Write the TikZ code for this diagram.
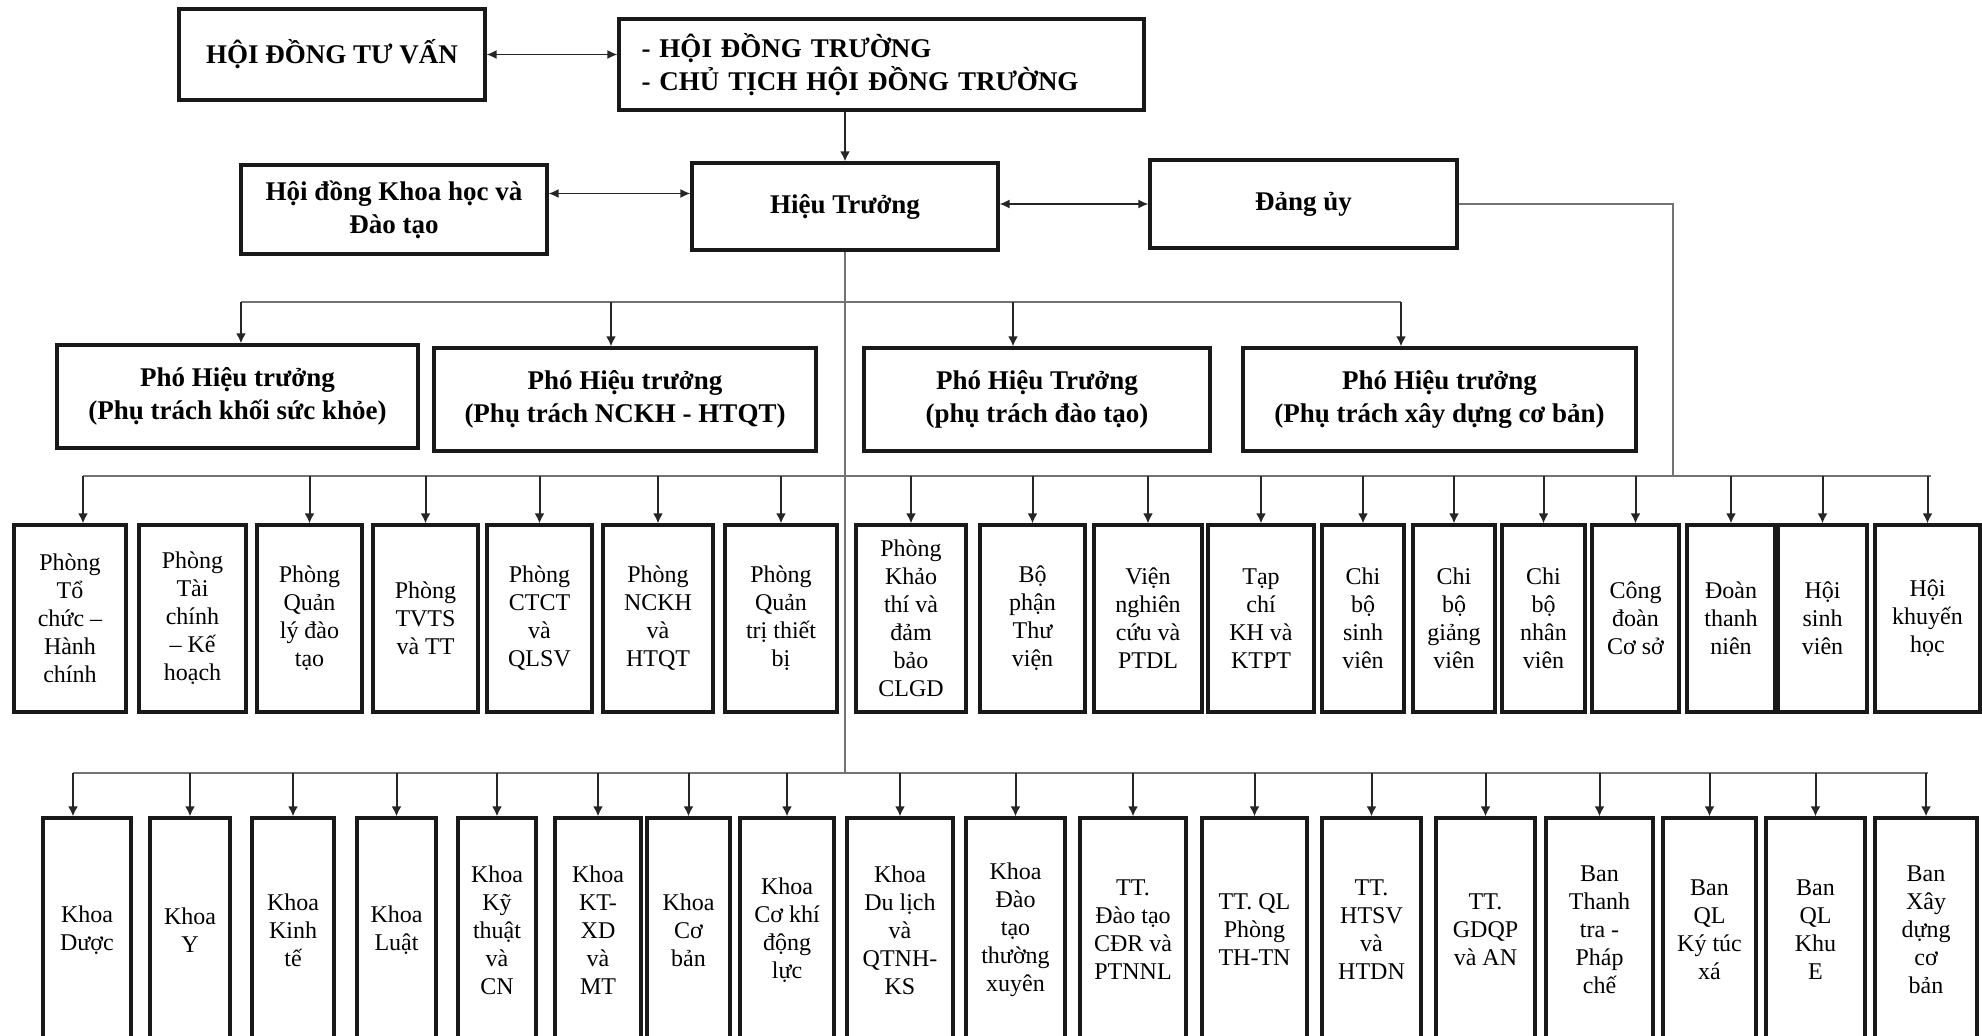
\documentclass[tikz,border=0pt]{standalone}
\usepackage{fontspec}
\setmainfont{Liberation Serif}
\usetikzlibrary{arrows.meta,calc}

\tikzset{
  unit/.style={draw=black!90, line width=1.6pt, inner sep=1pt, align=center,
    font=\fontsize{12}{14}\selectfont},
  head/.style={unit, font=\bfseries\fontsize{13.5}{16.5}\selectfont},
  link/.style={draw=black!55, line width=0.55pt},
  arr/.style={draw=black!85, line width=1pt, -{Latex[length=5pt,width=5pt]}},
  darr/.style={draw=black!85, line width=0.8pt, {Latex[length=5pt,width=4.5pt]}-{Latex[length=5pt,width=4.5pt]}},
}

% style, name, x1, y1, x2, y2, text
\newcommand\unitbox[7]{%
  \node[#1, minimum width={(#5-#3)*0.5pt}, minimum height={(#6-#4)*0.5pt}]
    (#2) at ({(#3+#5)/2},{(#4+#6)/2}) {#7};}

\begin{document}
\begin{tikzpicture}[x=0.5pt, y=-0.5pt]
\useasboundingbox (0,0) rectangle (1982,1035);

% top
\unitbox{head}{hdtv}{179}{9}{485}{100}{HỘI ĐỒNG TƯ VẤN}
\unitbox{head, align=left, text width=240pt}{hdt}{619}{19}{1144}{110}{- HỘI ĐỒNG TRƯỜNG\\- CHỦ TỊCH HỘI ĐỒNG TRƯỜNG}
\unitbox{head}{kh}{241}{165}{547}{254}{Hội đồng Khoa học và\\Đào tạo}
\unitbox{head}{ht}{692}{163}{998}{250}{Hiệu Trưởng}
\unitbox{head}{du}{1150}{160}{1457}{248}{Đảng ủy}

\unitbox{head}{p1}{57}{345}{418}{448}{Phó Hiệu trưởng\\(Phụ trách khối sức khỏe)}
\unitbox{head}{p2}{434}{348}{816}{451}{Phó Hiệu trưởng\\(Phụ trách NCKH - HTQT)}
\unitbox{head}{p3}{864}{348}{1210}{451}{Phó Hiệu Trưởng\\(phụ trách đào tạo)}
\unitbox{head}{p4}{1243}{348}{1636}{451}{Phó Hiệu trưởng\\(Phụ trách xây dựng cơ bản)}

% phong ban
\foreach \n/\a/\b/\t in {
  ptc/14/126/{Phòng\\Tổ\\chức –\\Hành\\chính},
  ptk/139/246/{Phòng\\Tài\\chính\\– Kế\\hoạch},
  pqd/257/362/{Phòng\\Quản\\lý đào\\tạo},
  ptv/373/478/{Phòng\\TVTS\\và TT},
  pct/487/592/{Phòng\\CTCT\\và\\QLSV},
  pnc/603/713/{Phòng\\NCKH\\và\\HTQT},
  pqt/725/837/{Phòng\\Quản\\trị thiết\\bị},
  pkt/856/966/{Phòng\\Khảo\\thí và\\đảm\\bảo\\CLGD},
  btv/980/1085/{Bộ\\phận\\Thư\\viện},
  vnc/1094/1202/{Viện\\nghiên\\cứu và\\PTDL},
  tck/1208/1314/{Tạp\\chí\\KH và\\KTPT},
  cbs/1322/1404/{Chi\\bộ\\sinh\\viên},
  cbg/1413/1495/{Chi\\bộ\\giảng\\viên},
  cbn/1502/1585/{Chi\\bộ\\nhân\\viên},
  cdcs/1592/1679/{Công\\đoàn\\Cơ sở},
  dtn/1687/1775/{Đoàn\\thanh\\niên},
  hsv/1778/1867/{Hội\\sinh\\viên},
  hkh/1875/1980/{Hội\\khuyến\\học}}
  {\unitbox{unit}{\n}{\a}{525}{\b}{712}{\t}}

% khoa, trung tam, ban
\foreach \n/\a/\b/\t in {
  kduoc/43/131/{Khoa\\Dược},
  ky/150/230/{Khoa\\Y},
  kkt/252/334/{Khoa\\Kinh\\tế},
  kluat/357/436/{Khoa\\Luật},
  kktcn/458/536/{Khoa\\Kỹ\\thuật\\và\\CN},
  kxd/555/641/{Khoa\\KT-\\XD\\và\\MT},
  kcb/647/730/{Khoa\\Cơ\\bản},
  kck/740/834/{Khoa\\Cơ khí\\động\\lực},
  kdl/847/953/{Khoa\\Du lịch\\và\\QTNH-\\KS},
  kdt/966/1065/{Khoa\\Đào\\tạo\\thường\\xuyên},
  ttdt/1080/1186/{TT.\\Đào tạo\\CĐR và\\PTNNL},
  ttql/1202/1307/{TT. QL\\Phòng\\TH-TN},
  tthtsv/1322/1421/{TT.\\HTSV\\và\\HTDN},
  ttqp/1436/1535/{TT.\\GDQP\\và AN},
  btt/1546/1653/{Ban\\Thanh\\tra -\\Pháp\\chế},
  bktx/1663/1756/{Ban\\QL\\Ký túc\\xá},
  bkhue/1766/1865/{Ban\\QL\\Khu\\E},
  bxd/1875/1977/{Ban\\Xây\\dựng\\cơ\\bản}}
  {\unitbox{unit}{\n}{\a}{818}{\b}{1042}{\t}}

\coordinate (pa1) at (241,302);
\coordinate (pa2) at (611,302);
\coordinate (pa3) at (1013,302);
\coordinate (pa4) at (1401,302);
\coordinate (bus4l) at (83,476);
\coordinate (bus4r) at (1931,476);
\coordinate (bus5l) at (73,773);
\coordinate (bus5r) at (1928,773);
\coordinate (dubus) at (1673,476);
\coordinate (khr) at ([yshift=8pt]kh.east);

% connectors
\draw[darr] (hdtv.east) -- (hdtv.east -| hdt.west);
\draw[arr] (ht.north |- hdt.south) -- (ht.north);
\draw[darr] (khr) -- (khr -| ht.west);
\draw[darr] (du.west) -- (du.west -| ht.east);
\draw[link] (du.east) -| (dubus);
\draw[link] (ht.south) -- (ht.south |- bus5l);

\draw[link] (pa1) -- (pa4);
\draw[arr] (pa1) -- (pa1 |- p1.north);
\draw[arr] (pa2) -- (pa2 |- p2.north);
\draw[arr] (pa3) -- (pa3 |- p3.north);
\draw[arr] (pa4) -- (pa4 |- p4.north);

\draw[link] (bus4l) -- (bus4r);
\draw[arr] (bus4l) -- (bus4l |- ptc.north);
\foreach \n in {pqd,ptv,pct,pnc,pqt,pkt,btv,vnc,tck,cbs,cbg,cbn,cdcs,dtn,hsv,hkh}
  \draw[arr] (\n.north |- bus4l) -- (\n.north);

\draw[link] (bus5l) -- (bus5r);
\draw[arr] (bus5l) -- (bus5l |- kduoc.north);
\foreach \n in {ky,kkt,kluat,kktcn,kxd,kcb,kck,kdl,kdt,ttdt,ttql,tthtsv,ttqp,btt,bktx,bkhue,bxd}
  \draw[arr] (\n.north |- bus5l) -- (\n.north);

\end{tikzpicture}
\end{document}
